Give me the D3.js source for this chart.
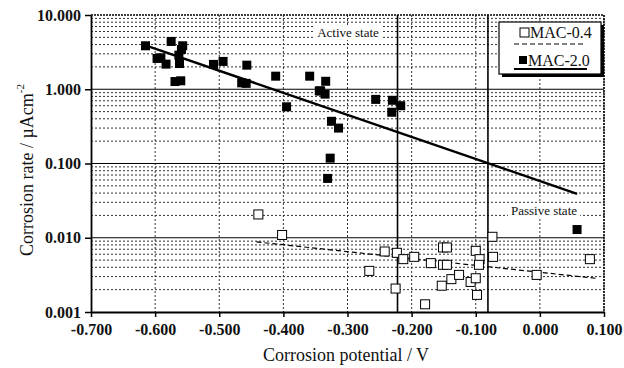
<!DOCTYPE html>
<html>
<head>
<meta charset="utf-8">
<script src="https://cdn.jsdelivr.net/npm/d3@7.9.0/dist/d3.min.js"></script>
<style>
  body { margin: 0; background: #fff; }
  svg text { font-family: "Liberation Serif", "DejaVu Serif", serif; fill: #111; }
</style>
</head>
<body>
<svg id="chart" width="624" height="368"></svg>
<script>
// MAC-2.0 (filled squares): corrosion potential (V), corrosion rate (uA/cm2)
const mac20Potential = [-0.615, -0.597, -0.591, -0.583, -0.575, -0.569, -0.560, -0.563, -0.562, -0.557, -0.559,
  -0.509, -0.494, -0.457, -0.465, -0.458, -0.412, -0.395, -0.359, -0.344, -0.334, -0.342, -0.335,
  -0.325, -0.314, -0.327, -0.331, -0.256, -0.230, -0.217, -0.231, 0.058];
const mac20Rate = [3.85, 2.6, 2.65, 2.18, 4.4, 1.27, 1.3, 2.88, 2.22, 3.85, 3.43,
  2.16, 2.37, 2.11, 1.22, 1.2, 1.5, 0.58, 1.5, 0.95, 1.28, 0.95, 0.86,
  0.37, 0.30, 0.118, 0.063, 0.73, 0.71, 0.60, 0.49, 0.0129];

// MAC-0.4 (open squares)
const mac04Potential = [-0.439, -0.402, -0.266, -0.242, -0.223, -0.213, -0.225, -0.196, -0.179, -0.170,
  -0.151, -0.145, -0.151, -0.145, -0.153, -0.138, -0.126, -0.108, -0.100, -0.100, -0.098,
  -0.094, -0.095, -0.074, -0.073, -0.005, 0.078];
const mac04Rate = [0.0206, 0.0109, 0.00358, 0.00653, 0.00627, 0.00515, 0.00207, 0.00553, 0.00127, 0.00455,
  0.0074, 0.0074, 0.00432, 0.00432, 0.00226, 0.00277, 0.00316, 0.00254, 0.00667, 0.00285, 0.0017,
  0.00515, 0.00432, 0.0103, 0.00553, 0.00316, 0.00515];

// fitted trend lines (end points)
const mac20Fit = [[-0.615, 3.9], [0.058, 0.039]];
const mac04Fit = [[-0.442, 0.0088], [0.088, 0.00284]];

// boundaries between active and passive state
const boundaries = [-0.222, -0.081];

const xTicks = [-0.7, -0.6, -0.5, -0.4, -0.3, -0.2, -0.1, 0.0, 0.1];
const yTicks = [0.001, 0.01, 0.1, 1, 10];

const svg = d3.select("#chart");
const mLeft = 91, mRight = 604, mTop = 15, mBottom = 312;

const x = d3.scaleLinear().domain([-0.7, 0.1]).range([mLeft, mRight]);
const y = d3.scaleLog().domain([0.001, 10]).range([mBottom, mTop]);
const fmt = d => d3.format(".3f")(d).replace("\u2212", "-");

// minor horizontal grid (dotted)
let minor = [];
yTicks.slice(0, -1).forEach(d => {
  for (let k = 2; k <= 9; k++) minor.push(d * k);
});
svg.append("g").selectAll("line").data(minor).join("line")
  .attr("x1", mLeft).attr("x2", mRight)
  .attr("y1", d => y(d)).attr("y2", d => y(d))
  .attr("stroke", "#333").attr("stroke-width", 1)
  .attr("stroke-dasharray", "2,2");

// vertical grid (dotted)
svg.append("g").selectAll("line").data(xTicks.slice(1)).join("line")
  .attr("x1", d => x(d)).attr("x2", d => x(d))
  .attr("y1", mTop).attr("y2", mBottom)
  .attr("stroke", "#333").attr("stroke-width", 1)
  .attr("stroke-dasharray", "2,2");

// decade lines (solid)
svg.append("g").selectAll("line").data(yTicks.slice(1, -1)).join("line")
  .attr("x1", mLeft).attr("x2", mRight)
  .attr("y1", d => y(d)).attr("y2", d => y(d))
  .attr("stroke", "#000").attr("stroke-width", 1.2);

// top border dotted
svg.append("line").attr("x1", mLeft).attr("x2", mRight).attr("y1", mTop).attr("y2", mTop)
  .attr("stroke", "#000").attr("stroke-width", 1.5).attr("stroke-dasharray", "2,1");

// annotations (white background)
function note(cx, cy, label) {
  const t = svg.append("text").attr("x", cx).attr("y", cy).attr("text-anchor", "middle")
    .attr("font-size", 13).text(label);
  const b = t.node().getBBox();
  svg.insert("rect", () => t.node()).attr("x", b.x - 3).attr("y", b.y)
    .attr("width", b.width + 6).attr("height", b.height).attr("fill", "#fff");
}

// state boundaries
svg.append("g").selectAll("line").data(boundaries).join("line")
  .attr("x1", d => x(d)).attr("x2", d => x(d))
  .attr("y1", mTop).attr("y2", mBottom)
  .attr("stroke", "#000").attr("stroke-width", 1.6);

note(348, 37, "Active state");
note(544, 215, "Passive state");

// axes
const xAxis = d3.axisBottom(x).tickValues(xTicks).tickFormat(fmt).tickSize(5).tickSizeOuter(0);
const gx = svg.append("g").attr("transform", `translate(0,${mBottom})`).call(xAxis);
const yAxis = d3.axisLeft(y).tickValues(yTicks).tickFormat(fmt).tickSize(6).tickSizeOuter(0);
const gy = svg.append("g").attr("transform", `translate(${mLeft},0)`).call(yAxis);
[gx, gy].forEach(g => {
  g.select(".domain").attr("stroke", "#000").attr("stroke-width", 1.8);
  g.selectAll(".tick line").attr("stroke", "#000").attr("stroke-width", 1.5);
  g.selectAll("text").attr("font-size", 16).attr("font-weight", "bold")
    .attr("font-family", "Liberation Serif").attr("fill", "#111");
});
gx.selectAll("text").attr("dy", "0.95em");
gy.selectAll("text").attr("dx", "-1px");

// right border dotted
svg.append("line").attr("x1", mRight).attr("x2", mRight).attr("y1", mTop).attr("y2", mBottom)
  .attr("stroke", "#000").attr("stroke-width", 1.5).attr("stroke-dasharray", "2,1");

// fit lines
const line = d3.line().x(d => x(d[0])).y(d => y(d[1]));
svg.append("path").attr("d", line(mac20Fit)).attr("fill", "none")
  .attr("stroke", "#000").attr("stroke-width", 2.4);
svg.append("path").attr("d", line(mac04Fit)).attr("fill", "none")
  .attr("stroke", "#000").attr("stroke-width", 1.2).attr("stroke-dasharray", "5,3");

// points
const s = 9;
svg.append("g").selectAll("rect").data(d3.zip(mac04Potential, mac04Rate)).join("rect")
  .attr("x", d => x(d[0]) - s / 2).attr("y", d => y(d[1]) - s / 2)
  .attr("width", s).attr("height", s)
  .attr("fill", "#fff").attr("stroke", "#000").attr("stroke-width", 1);
svg.append("g").selectAll("rect").data(d3.zip(mac20Potential, mac20Rate)).join("rect")
  .attr("x", d => x(d[0]) - s / 2).attr("y", d => y(d[1]) - s / 2)
  .attr("width", s).attr("height", s)
  .attr("fill", "#000");

// legend
const lg = svg.append("g");
lg.append("rect").attr("x", 502).attr("y", 25).attr("width", 102).attr("height", 52).attr("fill", "#000");
lg.append("rect").attr("x", 499).attr("y", 22).attr("width", 102).attr("height", 52)
  .attr("fill", "#fff").attr("stroke", "#000").attr("stroke-width", 1.2);
lg.append("rect").attr("x", 520).attr("y", 28).attr("width", 9).attr("height", 9)
  .attr("fill", "#fff").attr("stroke", "#000");
lg.append("text").attr("x", 530).attr("y", 38).attr("font-size", 16).text("MAC-0.4");
lg.append("line").attr("x1", 514).attr("x2", 586).attr("y1", 44).attr("y2", 44)
  .attr("stroke", "#000").attr("stroke-width", 1.2).attr("stroke-dasharray", "5,3");
lg.append("rect").attr("x", 519).attr("y", 56).attr("width", 8).attr("height", 8).attr("fill", "#000");
lg.append("text").attr("x", 528).attr("y", 66).attr("font-size", 16).text("MAC-2.0");
lg.append("line").attr("x1", 514).attr("x2", 587).attr("y1", 69).attr("y2", 69)
  .attr("stroke", "#000").attr("stroke-width", 2);

// axis titles
svg.append("text").attr("x", 346).attr("y", 361).attr("text-anchor", "middle")
  .attr("font-size", 18).text("Corrosion potential / V");
const yt = svg.append("text").attr("transform", "translate(33,170) rotate(-90)")
  .attr("text-anchor", "middle").attr("font-size", 18);
yt.append("tspan").text("Corrosion rate / \u00b5Acm");
yt.append("tspan").attr("font-size", 11).attr("dy", "-0.8em").text("-2");
</script>
</body>
</html>
